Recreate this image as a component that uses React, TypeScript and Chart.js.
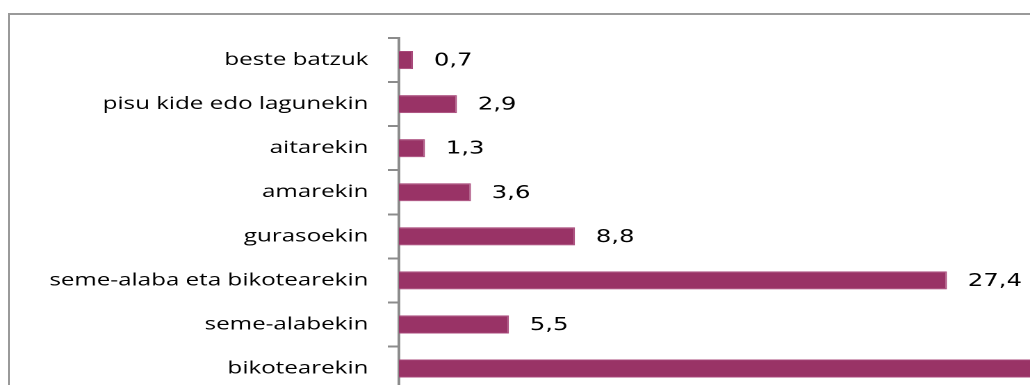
import React, { useEffect, useRef } from "react";
import { Chart, registerables } from "chart.js";

Chart.register(...registerables);

const categories = [
  "beste batzuk",
  "pisu kide edo lagunekin",
  "aitarekin",
  "amarekin",
  "gurasoekin",
  "seme-alaba eta bikotearekin",
  "seme-alabekin",
  "bikotearekin",
];
const values = [0.7, 2.9, 1.3, 3.6, 8.8, 27.4, 5.5, 49.8];
const xMin = 0;
const xMax = 60;

const SX = 1.39; // horizontal stretch of the reference picture
const INNER_W = 1160;
const INNER_H = 415;

const valueLabels = {
  id: "valueLabels",
  afterDatasetsDraw(chart: any) {
    const ctx = chart.ctx;
    const meta = chart.getDatasetMeta(0);
    ctx.save();
    ctx.font = '17.5px "DejaVu Sans"';
    ctx.fillStyle = "#000000";
    ctx.textAlign = "left";
    ctx.textBaseline = "middle";
    meta.data.forEach((bar: any, i: number) => {
      const v = values[i];
      ctx.fillText(v.toFixed(1).replace(".", ","), bar.x + 15, bar.y + 1);
    });
    ctx.restore();
  },
};

export default function App() {
  const ref = useRef<HTMLCanvasElement | null>(null);
  useEffect(() => {
    if (!ref.current) return;
    const chart = new Chart(ref.current, {
      type: "bar",
      data: {
        labels: categories,
        datasets: [
          {
            data: values,
            backgroundColor: "#993366",
            borderColor: "#a8487a",
            borderWidth: 1,
            barPercentage: 0.41,
            categoryPercentage: 1,
          },
        ],
      },
      options: {
        indexAxis: "y",
        animation: false,
        responsive: false,
        maintainAspectRatio: false,
        devicePixelRatio: 2,
        layout: { padding: { top: 38, bottom: 10, left: 0, right: 9.7 } },
        plugins: {
          legend: { display: false },
          tooltip: { enabled: false },
        },
        scales: {
          x: {
            display: false,
            min: xMin,
            max: xMax,
          },
          y: {
            afterFit(scale: any) {
              scale.width = 287;
            },
            border: { display: true, color: "#8c8c8c", width: 2 },
            grid: {
              display: true,
              drawOnChartArea: false,
              drawTicks: true,
              tickLength: 8,
              color: "#8c8c8c",
              lineWidth: 2,
            },
            ticks: {
              padding: 14,
              color: "#000000",
              font: { family: '"Open Sans"', size: 17.4 },
            },
          },
        },
      },
      plugins: [valueLabels],
    });
    return () => chart.destroy();
  }, []);

  return (
    <div
      style={{
        position: "fixed",
        left: 0,
        top: 0,
        width: 1030,
        height: 385,
        overflow: "hidden",
        background: "#ffffff",
      }}
    >
      <div
        style={{
          position: "absolute",
          left: 8,
          top: 13,
          width: 2000,
          height: 1000,
          border: "2px solid #9a9a9a",
          boxSizing: "border-box",
        }}
      />
      <div
        style={{
          position: "absolute",
          left: 0,
          top: 0,
          width: INNER_W,
          height: INNER_H,
          transform: `scaleX(${SX})`,
          transformOrigin: "0 0",
        }}
      >
        <canvas
          ref={ref}
          width={INNER_W}
          height={INNER_H}
          style={{ width: INNER_W, height: INNER_H, display: "block" }}
        />
      </div>
    </div>
  );
}
